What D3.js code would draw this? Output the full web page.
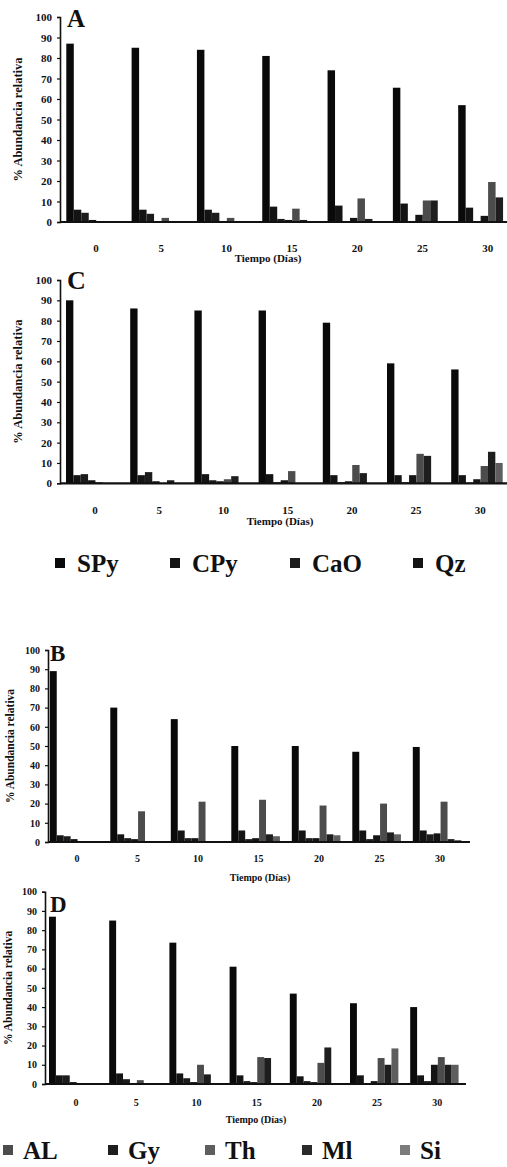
<!DOCTYPE html>
<html><head><meta charset="utf-8">
<script src="https://cdn.jsdelivr.net/npm/d3@7"></script>
<style>
body{margin:0;background:#fff}
svg{display:block}
text{font-family:"Liberation Serif","DejaVu Serif",serif;font-weight:bold;fill:#111}
</style>
</head><body>
<svg id="c" width="507" height="1167"></svg>
<script>
const days = ["0","5","10","15","20","25","30"];
const series = ["SPy","CPy","CaO","Qz","AL","Gy","Th","Ml","Si"];
const yTicks = [0,10,20,30,40,50,60,70,80,90,100];
const legendTop = ["SPy","CPy","CaO","Qz"];
const legendBottom = ["AL","Gy","Th","Ml","Si"];
const xTitle = "Tiempo (Días)";
const yTitle = "% Abundancia relativa";

// rows = days, columns = series (SPy, CPy, CaO, Qz, AL, Gy, Th, Ml, Si)
const valuesA = [
  [87, 6, 4.5, 1, 0.5, 0, 0, 0, 0],
  [85, 6, 4, 0.3, 2, 0, 0, 0, 0],
  [84, 6, 4.5, 0.5, 2, 0.5, 0, 0, 0],
  [81, 7.5, 1.5, 1, 6.5, 1, 0, 0, 0],
  [74, 8, 0.5, 2, 11.5, 1.5, 0, 0, 0],
  [65.5, 9, 0.5, 3.5, 10.5, 10.5, 0, 0, 0],
  [57, 7, 0.3, 3, 19.5, 12, 0, 0, 0]
];
const valuesC = [
  [90, 4, 4.5, 1.5, 0.5, 0, 0, 0, 0],
  [86, 4, 5.5, 1, 0, 1.5, 0, 0, 0],
  [85, 4.5, 1.5, 1, 2, 3.5, 0, 0, 0],
  [85, 4.5, 0.5, 1.5, 6, 0, 0, 0, 0],
  [79, 4, 0.5, 1, 9, 5, 0, 0, 0],
  [59, 4, 0.5, 4, 14.5, 13.5, 0, 0, 0],
  [56, 4, 0.3, 2, 8.5, 15.5, 10, 0, 0]
];
const valuesB = [
  [89, 3.5, 3, 1.5, 0.5, 0, 0, 0, 0],
  [70, 4, 2, 1.5, 16, 0, 0, 0, 0],
  [64, 6, 2, 2, 21, 0.5, 0, 0, 0],
  [50, 6, 1.5, 2, 22, 4, 3, 0, 0],
  [50, 6, 2, 2, 19, 4, 3.5, 0, 0],
  [47, 6, 1.5, 3.5, 20, 5, 4, 0, 0],
  [49.5, 6, 4, 4.5, 21, 1.5, 1, 0.5, 0]
];
const valuesD = [
  [87, 4.5, 4.5, 1, 0.3, 0, 0, 0, 0],
  [85, 5.5, 2.5, 0.5, 2, 0.5, 0, 0, 0],
  [73.5, 5.5, 3, 1, 10, 5, 0, 0, 0],
  [61, 4.5, 1.5, 1, 14, 13.5, 0, 0, 0],
  [47, 4, 1.5, 1, 11, 19, 0, 0, 0],
  [42, 4.5, 0.3, 1.5, 13.5, 10, 18.5, 0, 0],
  [40, 4.5, 1.5, 10, 14, 10, 10, 0, 0]
];

const seriesColors = ["#0a0a0a","#141414","#1c1c1c","#141414","#4c4c4c","#1e1e1e","#5e5e5e","#2a2a2a","#7c7c7c"];
const color = d3.scaleOrdinal().domain(series).range(seriesColors);

const svg = d3.select("#c");

const panels = [
  {letter:"A", values:valuesA, xr:[63.3,520.5], yr:[222,17], axisX:60, axisEnd:507,
   tickY:252, titleY:262, titleX:268, yTitleX:18, fs:11, letterX:67, letterY:27, letterFs:25},
  {letter:"C", values:valuesC, xr:[63,512.4], yr:[483.3,280], axisX:60, axisEnd:507,
   tickY:514, titleY:525, titleX:280, yTitleX:18, fs:11, letterX:67, letterY:289, letterFs:26},
  {letter:"B", values:valuesB, xr:[46.8,470.3], yr:[842,650], axisX:48, axisEnd:470,
   tickY:862, titleY:881, titleX:260, yTitleX:10, fs:10, letterX:50, letterY:661, letterFs:23},
  {letter:"D", values:valuesD, xr:[46,467.4], yr:[1084,891.7], axisX:45, axisEnd:466,
   tickY:1106, titleY:1123, titleX:256, yTitleX:8, fs:10, letterX:50, letterY:912, letterFs:23}
];

panels.forEach(p => {
  const g = svg.append("g");
  const x0 = d3.scaleBand().domain(days).range(p.xr).paddingInner(0).paddingOuter(0);
  const step = x0.bandwidth();
  const x1 = d3.scaleBand().domain(series).range([3, step + 5]).padding(0);
  const y = d3.scaleLinear().domain([0,100]).range(p.yr);

  // bars
  const grp = g.selectAll("g.day").data(p.values).join("g")
    .attr("transform", (d,i) => `translate(${x0(days[i])},0)`);
  grp.selectAll("rect").data(d => d.map((v,j) => ({s:series[j], v}))).join("rect")
    .attr("x", d => x1(d.s))
    .attr("width", x1.bandwidth())
    .attr("y", d => y(d.v))
    .attr("height", d => y(0) - y(d.v))
    .attr("fill", d => color(d.s));

  // y axis
  const ya = g.append("g").attr("transform", `translate(${p.axisX},0)`)
    .call(d3.axisLeft(y).tickValues(yTicks).tickSize(3).tickPadding(5));
  ya.select(".domain").attr("stroke","#111").attr("stroke-width",1.6);
  ya.selectAll(".tick line").attr("stroke","#111").attr("stroke-width",1.2);
  ya.selectAll(".tick text").attr("font-size", p.fs).attr("font-family","Liberation Serif").attr("font-weight","bold").attr("fill","#111");

  // x axis line
  g.append("line").attr("x1", p.axisX).attr("x2", p.axisEnd)
    .attr("y1", y(0)).attr("y2", y(0)).attr("stroke","#111").attr("stroke-width",2.2);

  // x tick labels
  g.selectAll("text.xt").data(days).join("text").attr("class","xt")
    .attr("x", d => x0(d) + step/2).attr("y", p.tickY)
    .attr("text-anchor","middle").attr("font-size", p.fs).text(d => d);

  // x title
  g.append("text").attr("x", p.titleX).attr("y", p.titleY)
    .attr("text-anchor","middle").attr("font-size", p.fs).text(xTitle);

  // y title
  const yc = (p.yr[0] + p.yr[1]) / 2;
  g.append("text").attr("transform", `translate(${p.yTitleX},${yc}) rotate(-90)`)
    .attr("text-anchor","middle").attr("dy","0.35em").attr("font-size", p.fs + 1.5).text(yTitle);

  // panel letter
  g.append("text").attr("x", p.letterX).attr("y", p.letterY)
    .attr("font-size", p.letterFs).text(p.letter);
});

// legends
const legendLayouts = [
  {items: legendTop, y: 563, xs: [55,170,290,413], size: 10, fs: 25, gap: 12},
  {items: legendBottom, y: 1150, xs: [3,108,205,302,400], size: 10, fs: 25, gap: 10}
];
legendLayouts.forEach(L => {
  const lg = svg.append("g");
  const it = lg.selectAll("g").data(L.items).join("g")
    .attr("transform", (d,i) => `translate(${L.xs[i]},${L.y})`);
  it.append("rect").attr("x",0).attr("y",-L.size/2).attr("width",L.size).attr("height",L.size)
    .attr("fill", d => color(d));
  it.append("text").attr("x", L.size + L.gap).attr("y", 0).attr("dy","0.35em")
    .attr("font-size", L.fs).text(d => d);
});
</script>
</body></html>
